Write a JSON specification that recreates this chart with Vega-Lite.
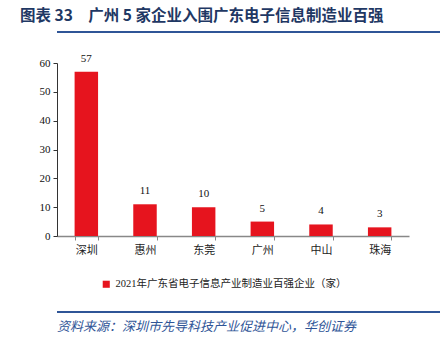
{
  "$schema": "https://vega.github.io/schema/vega-lite/v6.json",
  "padding": {"left": 20, "top": 8, "right": 5, "bottom": 5},
  "background": "white",
  "spacing": 19,
  "title": {
    "text": "图表 33　广州 5 家企业入围广东电子信息制造业百强",
    "anchor": "start",
    "font": "Noto Sans CJK SC",
    "fontSize": 15.5,
    "fontWeight": "bold",
    "color": "#1f3864",
    "offset": 7
  },
  "resolve": {"scale": {"color": "independent", "x": "independent", "y": "independent"}, "legend": {"color": "independent"}},
  "config": {
    "font": "Noto Sans CJK SC",
    "view": {"stroke": null}
  },
  "vconcat": [
    {
      "width": 413,
      "height": 2,
      "data": {"values": [{"k": "a", "v": 1}]},
      "mark": {"type": "bar", "color": "#2f5597", "clip": false},
      "encoding": {
        "x": {
          "field": "k",
          "type": "nominal",
          "scale": {"paddingInner": 0, "paddingOuter": 0},
          "axis": null
        },
        "y": {
          "field": "v",
          "type": "quantitative",
          "scale": {"domain": [0, 1], "nice": false, "zero": true},
          "axis": null
        }
      }
    },
    {
      "width": 352,
      "height": 173,
      "data": {
        "values": [
          {"city": "深圳", "value": 57, "series": "2021年广东省电子信息产业制造业百强企业（家）"},
          {"city": "惠州", "value": 11, "series": "2021年广东省电子信息产业制造业百强企业（家）"},
          {"city": "东莞", "value": 10, "series": "2021年广东省电子信息产业制造业百强企业（家）"},
          {"city": "广州", "value": 5, "series": "2021年广东省电子信息产业制造业百强企业（家）"},
          {"city": "中山", "value": 4, "series": "2021年广东省电子信息产业制造业百强企业（家）"},
          {"city": "珠海", "value": 3, "series": "2021年广东省电子信息产业制造业百强企业（家）"}
        ]
      },
      "encoding": {
        "x": {
          "field": "city",
          "type": "nominal",
          "sort": null,
          "scale": {"paddingInner": 0.6, "paddingOuter": 0.3},
          "axis": {
            "title": null,
            "labelAngle": 0,
            "labelFont": "Noto Sans CJK SC",
            "labelFontSize": 11,
            "labelColor": "#222222",
            "labelPadding": 4,
            "domainColor": "#888888",
            "domainWidth": 1.5,
            "tickColor": "#888888",
            "tickSize": 4,
            "tickBand": "extent"
          }
        },
        "y": {
          "field": "value",
          "type": "quantitative",
          "scale": {"domain": [0, 60], "nice": false},
          "axis": {
            "title": null,
            "values": [0, 10, 20, 30, 40, 50, 60],
            "grid": false,
            "labelFont": "Liberation Serif",
            "labelFontSize": 11,
            "labelColor": "#111111",
            "labelPadding": 3,
            "domainColor": "#333333",
            "tickColor": "#333333",
            "tickSize": 4,
            "minExtent": 37
          }
        }
      },
      "layer": [
        {
          "mark": {"type": "bar", "color": "#e6141e"},
          "encoding": {
            "color": {
              "field": "series",
              "type": "nominal",
              "scale": {"range": ["#e6141e"]},
              "legend": {
                "title": null,
                "orient": "none",
                "legendX": 42,
                "legendY": 214,
                "padding": 2,
                "symbolType": "square",
                "symbolSize": 50,
                "symbolStrokeWidth": 0,
                "labelFont": "Liberation Serif, Noto Sans CJK SC",
                "labelFontSize": 10.5,
                "labelColor": "#222222",
                "labelLimit": 400
              }
            }
          }
        },
        {
          "mark": {"type": "text", "baseline": "alphabetic", "dy": -10, "font": "Liberation Serif", "fontSize": 11, "color": "#111111"},
          "encoding": {"text": {"field": "value", "type": "quantitative"}}
        }
      ]
    },
    {
      "width": 413,
      "height": 2,
      "title": {
        "text": "资料来源：深圳市先导科技产业促进中心，华创证券",
        "orient": "bottom",
        "anchor": "start",
        "frame": "group",
        "font": "Noto Sans CJK SC",
        "fontSize": 13,
        "fontStyle": "italic",
        "fontWeight": "normal",
        "color": "#2f5597",
        "offset": 8
      },
      "data": {"values": [{"k": "a", "v": 1}]},
      "mark": {"type": "bar", "color": "#2f5597", "clip": false},
      "encoding": {
        "x": {
          "field": "k",
          "type": "nominal",
          "scale": {"paddingInner": 0, "paddingOuter": 0},
          "axis": null
        },
        "y": {
          "field": "v",
          "type": "quantitative",
          "scale": {"domain": [0, 1], "nice": false, "zero": true},
          "axis": null
        }
      }
    }
  ]
}
